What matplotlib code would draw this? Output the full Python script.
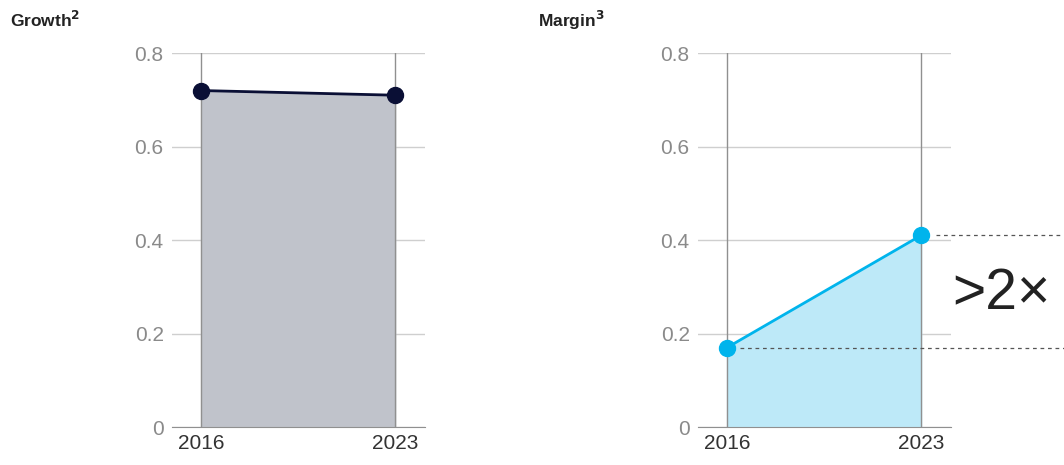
import matplotlib.pyplot as plt

# chart data
years = [2016, 2023]
growth = [0.72, 0.71]
margin = [0.17, 0.41]
yticks = [0, 0.2, 0.4, 0.6, 0.8]
ytick_labels = ["0", "0.2", "0.4", "0.6", "0.8"]
titles = ["Growth$^\\mathbf{2}$", "Margin$^\\mathbf{3}$"]

plt.rcParams["font.family"] = ["Liberation Sans", "DejaVu Sans"]

fig = plt.figure(figsize=(10.64, 4.65), dpi=100)
ax1 = fig.add_axes([0.1617, 0.0817, 0.2378, 0.804])
ax2 = fig.add_axes([0.656, 0.0817, 0.2378, 0.804])


def style_axis(ax, values, line_color, fill_color):
    ax.fill_between(years, values, 0, color=fill_color, zorder=1)
    for yr in years:
        ax.axvline(yr, color="#909090", lw=1, zorder=2)
    ax.plot(years, values, color=line_color, lw=2, marker="o", ms=11.5,
            zorder=4, clip_on=False)
    ax.set_xlim(2014.95, 2024.08)
    ax.set_ylim(0, 0.8)
    ax.set_yticks(yticks)
    ax.set_yticklabels(ytick_labels)
    ax.set_xticks(years)
    ax.grid(axis="y", color="#cfcfcf", lw=1, zorder=0)
    ax.set_axisbelow(True)
    for s in ["top", "right", "left"]:
        ax.spines[s].set_visible(False)
    ax.spines["bottom"].set_color("#909090")
    ax.tick_params(axis="y", length=0, pad=6, labelsize=15, labelcolor="#8a8a8a")
    ax.tick_params(axis="x", length=0, pad=5, labelsize=15, labelcolor="#333333")


style_axis(ax1, growth, "#0a0f35", "#c0c3cb")
style_axis(ax2, margin, "#00b4ec", "#bde9f8")

fig.text(0.0094, 0.942, titles[0], fontsize=12.5, fontweight="bold", color="#222222")
fig.text(0.5056, 0.942, titles[1], fontsize=12.5, fontweight="bold", color="#222222")

# dashed reference lines running past the right panel
tr = ax2.get_yaxis_transform()
ax2.plot([0.167, 1.46], [margin[0], margin[0]], transform=tr, ls=(0, (3, 3)),
         color="#555555", lw=0.9, clip_on=False, zorder=3)
ax2.plot([0.94, 1.46], [margin[1], margin[1]], transform=tr, ls=(0, (3, 3)),
         color="#555555", lw=0.9, clip_on=False, zorder=3)
ax2.text(1.2, 0.285, ">2×", transform=tr, fontsize=41, color="#222222",
         ha="center", va="center")

fig.savefig("out.png", dpi=100)
